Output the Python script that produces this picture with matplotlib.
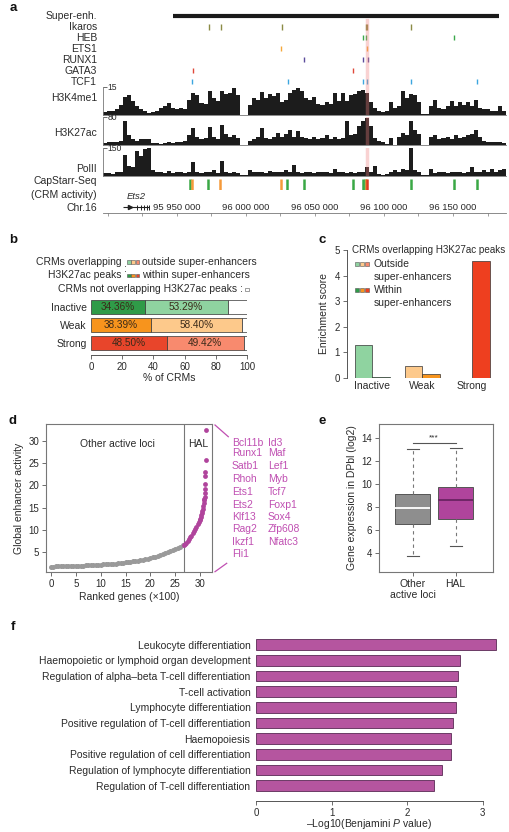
import numpy as np
import matplotlib
matplotlib.use('Agg')
import matplotlib.pyplot as plt
from matplotlib.patches import Rectangle

plt.rcParams['font.family'] = ['Liberation Sans', 'DejaVu Sans']
plt.rcParams['mathtext.fontset'] = 'custom'
plt.rcParams['mathtext.rm'] = 'Liberation Sans'
plt.rcParams['mathtext.it'] = 'Liberation Sans:italic'
TXT = '#2a2a2a'
for k in ['text.color', 'axes.labelcolor', 'xtick.color', 'ytick.color']:
    plt.rcParams[k] = TXT
plt.rcParams['xtick.labelsize'] = 7
plt.rcParams['ytick.labelsize'] = 7
plt.rcParams['axes.labelsize'] = 7.5

# ---------------- DATA ----------------
# Panel a (genome browser, chr16)
region = (95_896_200, 96_188_400)
super_enh = (95_947_100, 96_183_300)
highlight_pos = 96_087_700
tf_names = ['Ikaros', 'HEB', 'ETS1', 'RUNX1', 'GATA3', 'TCF1']
tf_colors = ['#8b8b45', '#3aa84a', '#f5a83a', '#5b4b9b', '#e0483a', '#3ca6e0']
ikaros_pos = [95_973_000, 95_982_000, 96_026_000, 96_086_900, 96_088_000, 96_119_500]
heb_pos = [96_084_800, 96_087_000, 96_150_700]
ets1_pos = [96_025_400, 96_087_700]
runx1_pos = [96_042_000, 96_084_800, 96_088_400]
gata3_pos = [95_961_600, 96_077_500]
tcf1_pos = [95_960_900, 96_030_400, 96_084_800, 96_087_700, 96_119_600, 96_167_400]
tf_positions = [ikaros_pos, heb_pos, ets1_pos, runx1_pos, gata3_pos, tcf1_pos]

h3k4me1 = [1.5, 1.8, 2.2, 3, 5, 9.5, 10.5, 7.5, 4.5, 3, 2.2, 0.8, 1.5, 2.2, 3.5, 4.5, 6.5, 3.5, 3, 3.8,
           3, 8, 12, 10.5, 6.5, 6, 12.7, 9, 7.5, 12.8, 11, 12, 14.2, 10.5, 0.1, 0.1, 5, 9, 8, 12.5,
           9, 11, 10, 12, 6.8, 8, 12, 13.5, 14.3, 12.7, 9, 8.2, 9.5, 6, 5.2, 6.8, 6, 12, 7.5, 12,
           7.5, 10.5, 11.3, 12.8, 13.5, 12, 6.8, 3.8, 2.2, 1.5, 2.2, 6.8, 3.8, 4.5, 12.8, 9, 11.2, 10.5, 6.8, 0.3,
           0.4, 4.5, 8.2, 3.8, 3, 4.5, 7.5, 4.5, 6.8, 5.2, 6.8, 4.5, 8.2, 3.8, 3, 3, 1.8, 2.2, 4.5, 2.2]
h3k27ac = [6, 8, 8, 9, 12, 68, 28, 16, 12, 16, 18, 16, 6, 5, 4, 6, 8, 6, 10, 8,
           12, 28, 50, 24, 16, 20, 52, 24, 16, 58, 32, 24, 28, 20, 0, 0, 12, 16, 24, 48,
           20, 16, 24, 36, 24, 32, 44, 24, 40, 24, 20, 16, 24, 16, 20, 28, 16, 24, 16, 20,
           70, 28, 32, 56, 68, 78, 56, 20, 12, 8, 4, 20, 0, 24, 36, 28, 68, 44, 32, 0,
           0, 24, 28, 16, 20, 24, 16, 28, 20, 24, 28, 32, 44, 24, 12, 10, 8, 10, 8, 6]
polii = [12, 15, 9, 18, 22, 112, 52, 45, 135, 105, 142, 150, 30, 18, 22, 15, 27, 15, 18, 22,
         15, 18, 75, 18, 15, 22, 18, 30, 15, 82, 22, 15, 18, 15, 3, 3, 30, 22, 18, 22,
         15, 27, 18, 22, 18, 30, 18, 60, 22, 15, 18, 22, 15, 18, 22, 18, 15, 38, 18, 22,
         15, 18, 15, 22, 18, 45, 22, 52, 8, 5, 8, 22, 30, 22, 38, 30, 150, 30, 22, 5,
         6, 38, 15, 22, 18, 15, 22, 18, 22, 15, 18, 45, 18, 22, 30, 18, 38, 22, 30, 38]
track_max = [15, 80, 150]
track_names = ['H3K4me1', 'H3K27ac', 'PolII']

cap_pos = [95_959_400, 95_960_900, 95_972_500, 95_981_200, 96_025_400, 96_029_700, 96_042_000,
           96_077_500, 96_084_800, 96_086_200, 96_087_100, 96_088_000, 96_119_600, 96_150_700, 96_167_400]
cap_class = ['inactive', 'weak', 'inactive', 'weak', 'weak', 'inactive', 'inactive',
             'inactive', 'inactive', 'inactive', 'weak', 'strong', 'inactive', 'inactive', 'inactive']
cap_colors = {'inactive': '#3aa845', 'weak': '#f59a3a', 'strong': '#e03a20'}
ets2_gene = (95_910_900, 95_929_700)
chr_labels = [95_950_000, 96_000_000, 96_050_000, 96_100_000, 96_150_000]

# Panel b
b_categories = ['Inactive', 'Weak', 'Strong']
b_within = [34.36, 38.39, 48.50]
b_outside = [53.29, 58.40, 49.42]
dark_cols = ['#2f9b48', '#f7941d', '#e8452b']
light_cols = ['#8fd3a0', '#fdc98b', '#f88a6e']

# Panel c
c_outside = [1.27, 0.45, 0.01]
c_within = [0.02, 0.17, 4.57]
c_within_cols = ['#2f9b48', '#f7941d', '#ee3f1f']

# Panel d
d_other_rank = [i * 0.5 for i in range(54)]
d_other_val = [1.70, 1.72, 1.74, 1.76, 1.78, 1.80, 1.82, 1.84, 1.86, 1.88, 1.90, 1.92, 1.94, 1.96, 1.98,
               2.00, 2.03, 2.06, 2.09, 2.12, 2.15, 2.19, 2.23, 2.27, 2.31, 2.36, 2.41, 2.46, 2.52, 2.58,
               2.65, 2.72, 2.80, 2.88, 2.97, 3.06, 3.16, 3.27, 3.39, 3.52, 3.66, 3.81, 3.97, 4.14, 4.32,
               4.52, 4.73, 4.95, 5.18, 5.42, 5.67, 5.94, 6.22, 6.52]
d_hal_rank = [26.8, 27.0, 27.25, 27.5, 27.75, 28.0, 28.25, 28.5, 28.75, 29.0, 29.25, 29.5, 29.75, 29.9,
              30.0, 30.1, 30.2, 30.3, 30.4, 30.5, 30.6, 30.7, 30.8, 30.85, 30.9,
              30.95, 31.0, 31.0, 31.05, 31.05, 31.1, 31.15]
d_hal_val = [6.6, 6.8, 7.1, 7.5, 7.9, 8.3, 8.7, 9.2, 9.7, 10.2, 10.7, 11.2, 11.8, 12.2,
             12.5, 12.9, 13.3, 13.7, 14.2, 14.7, 15.3, 16.0, 16.6, 17.0, 17.4,
             18.2, 19.2, 20.2, 22.0, 22.9, 25.6, 32.5]
hal_threshold = 26.8
hal_genes_col1 = ['Bcl11b', 'Runx1', 'Satb1', 'Rhoh', 'Ets1', 'Ets2', 'Klf13', 'Rag2', 'Ikzf1', 'Fli1']
hal_genes_col2 = ['Id3', 'Maf', 'Lef1', 'Myb', 'Tcf7', 'Foxp1', 'Sox4', 'Zfp608', 'Nfatc3']

# Panel e
e_labels = ['Other\nactive loci', 'HAL']
e_whislo = [3.69, 4.59]
e_q1 = [6.48, 6.92]
e_med = [7.93, 8.58]
e_q3 = [9.10, 9.77]
e_whishi = [13.07, 13.18]

# Panel f
f_terms = ['Leukocyte differentiation', 'Haemopoietic or lymphoid organ development',
           'Regulation of alpha\u2013beta T-cell differentiation', 'T-cell activation',
           'Lymphocyte differentiation', 'Positive regulation of T-cell differentiation',
           'Haemopoiesis', 'Positive regulation of cell differentiation',
           'Regulation of lymphocyte differentiation', 'Regulation of T-cell differentiation']
f_values = [3.17, 2.70, 2.67, 2.65, 2.65, 2.60, 2.58, 2.58, 2.46, 2.36]

MAG = '#b0449c'
MAGTXT = '#c04fb2'

# ---------------- FIGURE ----------------
W, H = 510, 832
fig = plt.figure(figsize=(W / 100, H / 100), dpi=100)


def axpx(l, t, r, b):
    ax = fig.add_axes([l / W, 1 - b / H, (r - l) / W, (b - t) / H])
    ax.patch.set_alpha(0)
    return ax


over = axpx(0, 0, W, H)
over.set_xlim(0, W)
over.set_ylim(H, 0)
over.axis('off')
over.set_zorder(10)


def T(x, y, s, **kw):
    kw.setdefault('fontsize', 7.5)
    kw.setdefault('va', 'center')
    over.text(x, y, s, **kw)


# panel letters
for lx, ly, lt in [(13, 8, 'a'), (13, 240, 'b'), (322, 240, 'c'), (13, 421, 'd'), (322, 421, 'e'), (13, 627, 'f')]:
    T(lx, ly, lt, fontsize=9.5, fontweight='bold', ha='center', color='#111')

# ---- panel a
AL, AR = 102.7, 506
ax_tf = axpx(AL, 10.5, AR, 87)
ax_tf.set_xlim(*region)
ax_tf.set_ylim(6.5, -0.5)
ax_tf.axis('off')
ax_tf.hlines(0, super_enh[0], super_enh[1], color='#1a1a1a', lw=3.0)
for r, (poss, col) in enumerate(zip(tf_positions, tf_colors)):
    ax_tf.vlines(poss, r + 1 - 0.24, r + 1 + 0.24, color=col, lw=1.0)
ax_tf.axvline(highlight_pos, ymin=0, ymax=0.87, color='#f08080', alpha=0.35, lw=2.5, zorder=3)
row_names = ['Super-enh.'] + tf_names
for r, nm in enumerate(row_names):
    T(97, 10.5 + (r + 0.5) * (76.5 / 7), nm, ha='right')

sig_edges = np.linspace(region[0], region[1], len(h3k4me1) + 1)
track_px = [(87, 114.7, 98), (117.3, 145, 133), (148, 175.7, 169)]
for vals, mx, nm, (t, b, ly) in zip([h3k4me1, h3k27ac, polii], track_max, track_names, track_px):
    ax = axpx(AL, t, AR, b)
    ax.stairs(np.minimum(vals, mx), sig_edges, fill=True, color='#1c1c1c', lw=0)
    ax.set_xlim(*region)
    ax.set_ylim(0, mx)
    for s in ['top', 'right']:
        ax.spines[s].set_visible(False)
    for s in ['left', 'bottom']:
        ax.spines[s].set_color('#777')
        ax.spines[s].set_linewidth(0.6)
    ax.set_xticks([])
    ax.set_yticks([mx])
    ax.set_yticklabels([])
    ax.tick_params(axis='y', direction='in', length=3, width=0.6, color='#555')
    ax.text(0.012, 0.985, str(mx), transform=ax.transAxes, fontsize=6.2, ha='left', va='center')
    ax.axvline(highlight_pos, color='#f08080', alpha=0.35, lw=2.5, zorder=3)
    T(97, ly, nm, ha='right')

ax_cap = axpx(AL, 179, AR, 189.5)
ax_cap.set_xlim(*region)
ax_cap.set_ylim(0, 1)
ax_cap.axis('off')
ax_cap.vlines(cap_pos, 0, 1, colors=[cap_colors[c] for c in cap_class], lw=1.8)
T(97, 181.5, 'CapStarr-Seq', ha='right')
T(97, 194.5, '(CRM activity)', ha='right')

ax_chr = axpx(AL, 200, AR, 213)
ax_chr.set_xlim(*region)
ax_chr.set_ylim(0, 1)
for s in ['top', 'right', 'left']:
    ax_chr.spines[s].set_visible(False)
ax_chr.spines['bottom'].set_color('#777')
ax_chr.spines['bottom'].set_linewidth(0.6)
ax_chr.set_yticks([])
ax_chr.set_xticks(np.arange(95_900_000, 96_190_000, 25_000))
ax_chr.set_xticklabels([])
ax_chr.tick_params(axis='x', length=2, width=0.5, color='#777')
for p in chr_labels:
    s = f'{p:,}'.replace(',', ' ')
    ax_chr.text(p, 0.45, s, fontsize=6.8, ha='center', va='center')
gy = 0.45
ax_chr.hlines(gy, ets2_gene[0], ets2_gene[1], color='#222', lw=0.8)
glen = ets2_gene[1] - ets2_gene[0]
ax_chr.plot([ets2_gene[0] + glen * 0.28], [gy], marker='>', ms=3, color='#222')
ax_chr.vlines([ets2_gene[0] + glen * f for f in (0.55, 0.68, 0.8, 0.92, 1.0)], gy - 0.2, gy + 0.2,
              color='#222', lw=0.7)
ax_chr.text((ets2_gene[0] + ets2_gene[1]) / 2, 1.25, 'Ets2', fontsize=6.8, style='italic',
            ha='center', va='center', clip_on=False)
T(97, 208, 'Chr.16', ha='right')

# ---- panel b
ax_b = axpx(91, 298, 247, 355)
yb = np.arange(len(b_categories))
rest = [100 - a - b for a, b in zip(b_within, b_outside)]
ax_b.barh(yb, b_within, height=0.78, color=dark_cols, edgecolor='#333', lw=0.5)
ax_b.barh(yb, b_outside, left=b_within, height=0.78, color=light_cols, edgecolor='#333', lw=0.5)
ax_b.barh(yb, rest, left=[a + b for a, b in zip(b_within, b_outside)], height=0.78,
          color='white', edgecolor='#333', lw=0.5)
for i in range(3):
    ax_b.text(b_within[i] / 2, i, f'{b_within[i]:.2f}%', ha='center', va='center', fontsize=7.2, color='#3a2a1a')
    ax_b.text(b_within[i] + b_outside[i] / 2, i, f'{b_outside[i]:.2f}%', ha='center', va='center',
              fontsize=7.2, color='#3a2a1a')
ax_b.set_xlim(0, 100)
ax_b.set_ylim(2.667, -0.5)
for s in ['top', 'right', 'left']:
    ax_b.spines[s].set_visible(False)
ax_b.spines['bottom'].set_bounds(0, 100)
ax_b.spines['bottom'].set_color('#555')
ax_b.spines['bottom'].set_linewidth(0.7)
ax_b.set_xticks(range(0, 101, 20))
ax_b.set_yticks(yb)
ax_b.set_yticklabels(b_categories, fontsize=7.5)
ax_b.tick_params(axis='y', length=0, pad=3)
ax_b.tick_params(axis='x', length=3, width=0.6, color='#555', pad=2)
ax_b.set_xlabel('% of CRMs', labelpad=1)

T(122, 262, 'CRMs overlapping', ha='right')
T(122, 275.5, 'H3K27ac peaks', ha='right')
T(125, 268.5, ':', ha='center')
for j in range(3):
    over.add_patch(Rectangle((127 + j * 4.4, 260), 3.6, 3.8, facecolor=light_cols[j], edgecolor='#555', lw=0.4))
    over.add_patch(Rectangle((127 + j * 4.4, 273.5), 3.6, 3.8, facecolor=dark_cols[j], edgecolor='#555', lw=0.4))
T(142, 262, 'outside super-enhancers', ha='left')
T(142, 275.5, 'within super-enhancers', ha='left')
T(243, 289, 'CRMs not overlapping H3K27ac peaks :', ha='right')
over.add_patch(Rectangle((245, 287.5), 3.6, 3.8, facecolor='white', edgecolor='#555', lw=0.4))

# ---- panel c
ax_c = axpx(347, 250, 502, 378)
xc = np.arange(3)
ax_c.bar(xc - 0.175, c_outside, width=0.35, color=light_cols, edgecolor='#333', lw=0.5)
ax_c.bar(xc + 0.175, c_within, width=0.35, color=c_within_cols, edgecolor='#333', lw=0.5)
ax_c.set_xlim(-0.5, 2.6)
ax_c.set_ylim(0, 5)
for s in ['top', 'right', 'bottom']:
    ax_c.spines[s].set_visible(False)
ax_c.spines['left'].set_bounds(0, 5)
ax_c.spines['left'].set_color('#555')
ax_c.spines['left'].set_linewidth(0.7)
ax_c.set_yticks(range(6))
ax_c.set_xticks(xc)
ax_c.set_xticklabels(b_categories, fontsize=7.5)
ax_c.tick_params(axis='x', length=0, pad=2)
ax_c.tick_params(axis='y', length=3, width=0.6, color='#555', pad=2)
ax_c.set_ylabel('Enrichment score', labelpad=4)
T(352, 250, 'CRMs overlapping H3K27ac peaks', ha='left', fontsize=7.1)
for j in range(3):
    over.add_patch(Rectangle((355 + j * 4.8, 262), 4.0, 4.0, facecolor=light_cols[j], edgecolor='#555', lw=0.4))
    over.add_patch(Rectangle((355 + j * 4.8, 288), 4.0, 4.0, facecolor=c_within_cols[j], edgecolor='#555', lw=0.4))
T(374, 264, 'Outside', ha='left')
T(374, 277, 'super-enhancers', ha='left')
T(374, 290, 'Within', ha='left')
T(374, 303, 'super-enhancers', ha='left')

# ---- panel d
ax_d = axpx(46, 424, 212, 572)
ax_d.scatter(d_other_rank, d_other_val, s=13, color='#9a9a9a', lw=0, zorder=2)
ax_d.scatter(d_hal_rank, d_hal_val, s=12, color=MAG, lw=0, zorder=3)
ax_d.axvline(hal_threshold, color='#777', lw=0.8, zorder=1)
ax_d.set_xlim(-1.0, 32.4)
ax_d.set_ylim(0.5, 33.8)
for s in ax_d.spines.values():
    s.set_color('#777')
    s.set_linewidth(0.8)
ax_d.set_xticks(range(0, 31, 5))
ax_d.set_yticks(range(5, 31, 5))
ax_d.tick_params(length=3, width=0.6, color='#555', pad=2)
ax_d.set_ylabel('Global enhancer activity', labelpad=3)
ax_d.set_xlabel('Ranked genes (\u00d7100)', labelpad=2)
T(117, 444, 'Other active loci', ha='center')
T(198, 444, 'HAL', ha='center')
row_y = [442.7, 453.2, 466, 479.5, 492, 504.5, 517, 529.5, 542, 554]
for yy, g in zip(row_y, hal_genes_col1):
    T(232, yy, g, ha='left', color=MAGTXT)
for yy, g in zip(row_y, hal_genes_col2):
    T(268, yy, g, ha='left', color=MAGTXT)
over.plot([215, 228.3], [425, 436.7], color=MAGTXT, lw=0.9)
over.plot([215, 226.7], [571.7, 563.3], color=MAGTXT, lw=0.9)

# ---- panel e
ax_e = axpx(379, 424, 493, 572)
stats = []
for i in range(2):
    stats.append(dict(whislo=e_whislo[i], q1=e_q1[i], med=e_med[i], q3=e_q3[i], whishi=e_whishi[i], fliers=[]))
bp = ax_e.bxp(stats, positions=[1, 2], widths=0.81, patch_artist=True, showfliers=False,
              capwidths=0.28,
              boxprops=dict(edgecolor='#555', lw=0.7),
              whiskerprops=dict(color='#777', lw=0.8, linestyle=(0, (3, 3))),
              capprops=dict(color='#555', lw=0.8),
              medianprops=dict(lw=1.3))
bp['boxes'][0].set_facecolor('#8e8e8e')
bp['boxes'][1].set_facecolor(MAG)
bp['medians'][0].set_color('white')
bp['medians'][1].set_color('#6a2362')
ax_e.plot([1, 2], [13.55, 13.55], color='#555', lw=0.8)
ax_e.text(1.5, 13.75, '***', ha='center', va='bottom', fontsize=6)
ax_e.set_xlim(0.22, 2.87)
ax_e.set_ylim(2.31, 15.25)
for s in ax_e.spines.values():
    s.set_color('#777')
    s.set_linewidth(0.8)
ax_e.set_yticks(range(4, 15, 2))
ax_e.set_xticks([1, 2])
ax_e.set_xticklabels(e_labels, fontsize=7.5, linespacing=1.1)
ax_e.tick_params(length=3, width=0.6, color='#555', pad=2)
ax_e.set_ylabel('Gene expression in DPbl (log2)', labelpad=3)

# ---- panel f
ax_f = axpx(256, 636.9, 501.7, 801.3)
yf = np.arange(len(f_terms))
ax_f.barh(yf, f_values, height=0.68, color='#b5559f', edgecolor='#5a2a55', lw=0.6)
ax_f.set_xlim(0, 3.25)
ax_f.set_ylim(9.99, -0.5)
for s in ['top', 'right', 'left']:
    ax_f.spines[s].set_visible(False)
ax_f.spines['bottom'].set_bounds(0, 3)
ax_f.spines['bottom'].set_color('#555')
ax_f.spines['bottom'].set_linewidth(0.7)
ax_f.set_xticks(range(4))
ax_f.set_yticks(yf)
ax_f.set_yticklabels(f_terms, fontsize=7.5)
ax_f.tick_params(axis='y', length=0, pad=4)
ax_f.tick_params(axis='x', length=3, width=0.6, color='#555', pad=2)
ax_f.set_xlabel('\u2013Log10(Benjamini $\\mathit{P}$ value)')
ax_f.xaxis.set_label_coords(113.4 / 245.7, -22.5 / 164.4)
ax_f.xaxis.label.set_va('center')

fig.savefig('out.png', dpi=100)
